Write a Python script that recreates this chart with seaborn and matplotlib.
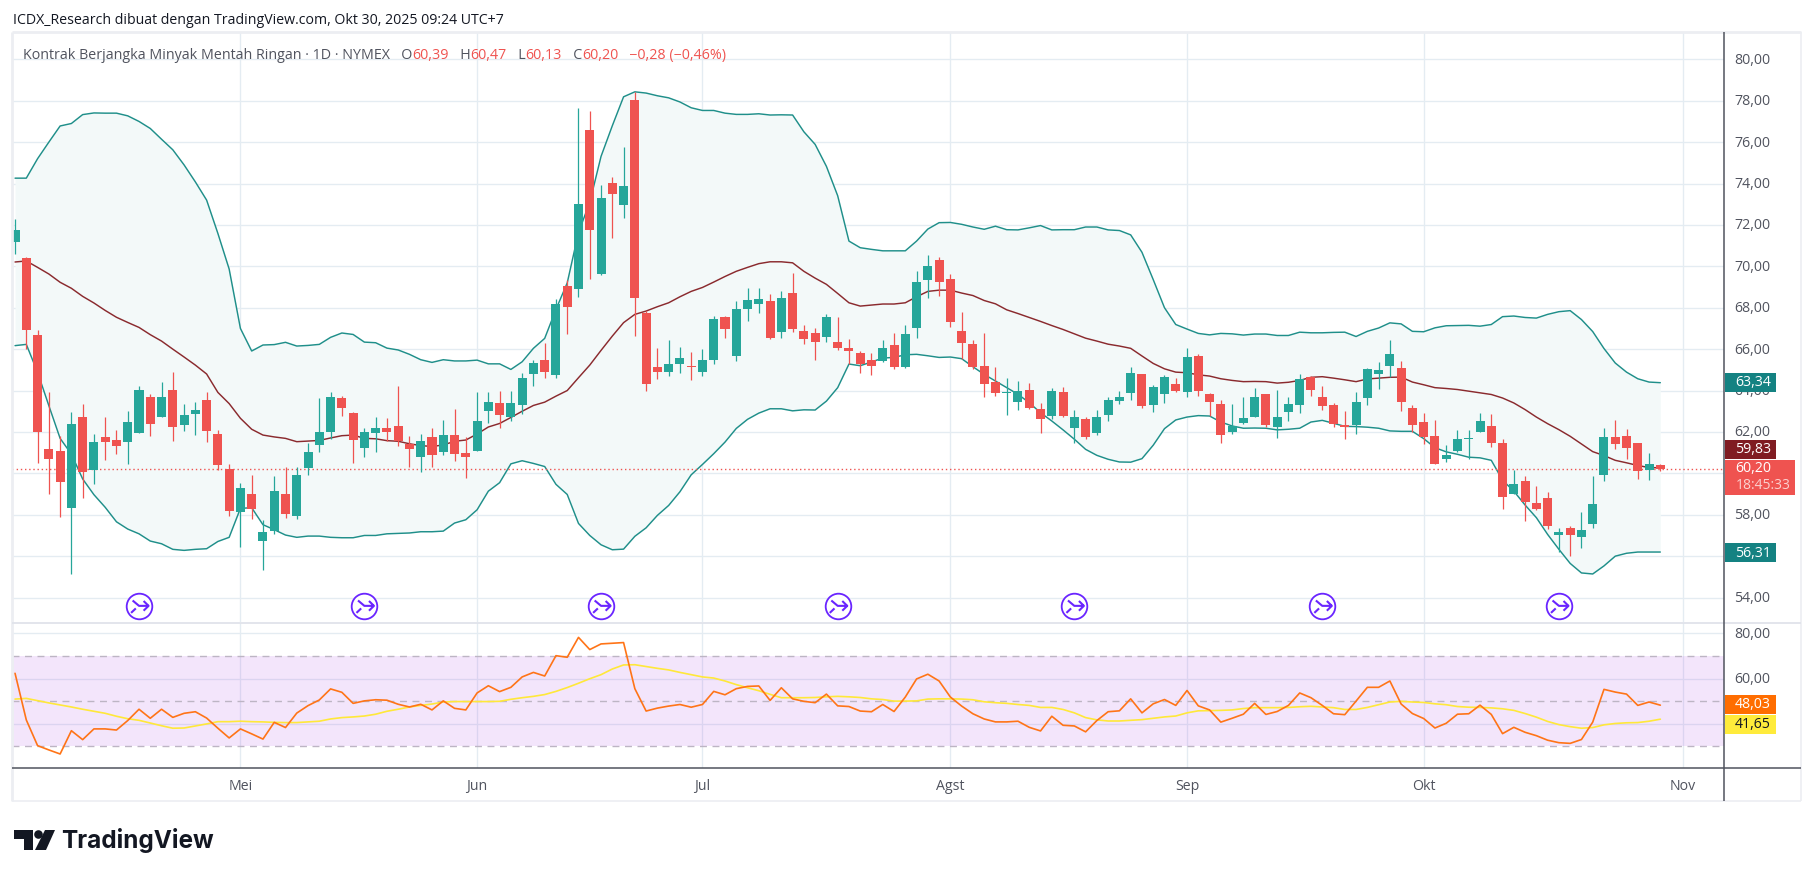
"""Crude oil daily candles with Bollinger bands and RSI, TradingView look."""

import matplotlib.pyplot as plt
import numpy as np
import pandas as pd
import seaborn as sns
from matplotlib.patches import Circle, Polygon, Rectangle
from matplotlib.path import Path
from matplotlib.transforms import ScaledTranslation

sns.set_theme(style="white")
plt.rcParams["font.family"] = ["Open Sans", "DejaVu Sans"]

opens = [
    71.19, 70.40, 66.68, 61.18, 61.08, 58.33, 62.72, 60.18, 61.76, 61.61,
    61.51, 61.95, 63.69, 62.72, 64.03, 62.33, 62.87, 63.54, 61.90, 60.21,
    58.13, 59.00, 56.73, 57.21, 59.00, 57.94, 60.26, 61.37, 62.00, 63.64,
    62.91, 61.22, 61.95, 62.19, 62.29, 61.42, 60.79, 61.76, 61.03, 61.85,
    60.98, 61.08, 62.99, 63.38, 62.70, 63.28, 64.78, 65.46, 64.73, 69.05,
    68.90, 76.58, 69.63, 74.02, 72.96, 78.03, 67.77, 65.12, 64.92, 65.26,
    65.18, 64.92, 65.50, 67.53, 65.65, 67.94, 68.18, 68.32, 66.82, 68.71,
    66.87, 66.78, 66.58, 66.34, 66.04, 65.79, 65.50, 65.41, 66.18, 65.12,
    67.02, 69.34, 70.30, 69.38, 66.87, 66.23, 65.17, 64.40, 63.88, 63.43,
    64.01, 63.09, 62.76, 63.91, 62.18, 62.61, 61.94, 62.80, 63.48, 63.87,
    64.78, 63.29, 63.82, 64.30, 63.91, 65.65, 63.82, 63.33, 61.98, 62.42,
    62.71, 63.82, 62.22, 62.95, 63.29, 64.64, 63.67, 63.29, 62.32, 62.32,
    63.62, 64.78, 65.17, 65.07, 63.14, 62.47, 61.79, 60.67, 61.10, 61.68,
    62.02, 62.31, 61.49, 58.98, 59.61, 58.59, 58.79, 57.00, 57.34, 56.91,
    57.53, 59.90, 61.78, 61.82, 61.49, 60.14, 60.39,
]
highs = [
    72.28, 70.45, 66.92, 63.91, 61.79, 62.96, 63.35, 61.90, 62.72, 62.09,
    63.01, 64.22, 63.83, 64.41, 64.90, 63.35, 63.45, 63.93, 62.09, 60.45,
    59.53, 59.92, 57.73, 59.87, 60.31, 60.31, 61.47, 63.64, 63.93, 63.74,
    62.96, 62.18, 62.72, 62.67, 64.22, 61.80, 61.90, 62.18, 62.58, 63.11,
    61.76, 63.93, 63.91, 63.96, 64.00, 64.83, 65.46, 66.28, 68.40, 69.35,
    77.65, 77.50, 73.93, 74.31, 75.76, 78.42, 67.85, 66.04, 66.42, 66.08,
    65.84, 65.99, 67.58, 67.58, 68.35, 68.95, 68.95, 68.66, 68.81, 69.67,
    67.16, 67.02, 67.69, 67.55, 66.47, 65.89, 65.79, 66.42, 66.76, 67.15,
    69.77, 70.54, 70.45, 69.63, 67.79, 66.42, 66.76, 65.12, 64.59, 64.44,
    64.35, 63.38, 64.10, 64.15, 63.05, 62.71, 63.05, 63.67, 63.96, 65.12,
    64.78, 64.25, 64.73, 64.59, 66.04, 65.75, 63.86, 63.53, 63.33, 63.67,
    64.10, 63.82, 64.01, 63.67, 64.78, 64.68, 64.20, 63.38, 63.00, 63.91,
    65.07, 65.36, 66.42, 65.41, 63.29, 62.90, 62.56, 61.39, 62.11, 62.11,
    62.93, 62.88, 61.68, 60.18, 59.85, 59.41, 59.12, 57.34, 57.44, 58.11,
    59.85, 62.21, 62.59, 62.16, 61.49, 61.00, 60.47,
]
lows = [
    70.60, 66.00, 60.50, 59.00, 57.91, 55.15, 58.81, 59.48, 60.64, 60.93,
    60.45, 61.95, 61.80, 62.72, 61.56, 62.05, 61.85, 61.51, 60.16, 57.94,
    56.45, 57.79, 55.34, 57.07, 57.84, 57.79, 59.92, 61.03, 61.66, 62.77,
    60.50, 60.79, 61.03, 61.56, 61.32, 60.31, 60.06, 60.31, 60.89, 60.60,
    59.77, 61.08, 62.41, 62.17, 62.51, 62.85, 64.20, 64.59, 64.63, 66.71,
    68.52, 69.38, 69.58, 71.37, 72.33, 66.63, 64.00, 64.54, 64.68, 64.83,
    64.49, 64.68, 65.26, 66.52, 65.41, 67.36, 67.74, 66.49, 66.53, 66.82,
    66.24, 65.47, 66.34, 65.95, 65.26, 64.83, 64.73, 65.36, 65.02, 65.07,
    66.53, 68.47, 68.56, 67.07, 65.52, 65.02, 63.67, 63.72, 62.80, 63.05,
    63.09, 61.94, 62.61, 62.71, 61.45, 61.65, 61.84, 62.51, 63.33, 63.53,
    63.14, 62.95, 63.38, 63.91, 63.67, 63.72, 62.76, 61.45, 61.89, 62.37,
    62.71, 62.22, 61.69, 62.51, 62.90, 63.72, 63.05, 62.22, 61.65, 61.89,
    63.29, 64.06, 64.65, 63.00, 61.98, 61.40, 60.44, 60.57, 61.05, 60.71,
    62.02, 61.25, 58.26, 58.98, 57.68, 58.21, 57.29, 56.18, 55.99, 56.38,
    57.34, 59.65, 61.20, 60.67, 59.75, 59.70, 60.13,
]
closes = [
    71.75, 66.94, 62.00, 60.69, 59.58, 62.38, 60.06, 61.51, 61.51, 61.32,
    62.48, 64.03, 62.38, 63.69, 62.24, 62.82, 63.06, 62.05, 60.40, 58.18,
    59.29, 58.28, 57.18, 59.15, 58.04, 59.92, 61.03, 62.00, 63.69, 63.16,
    61.61, 61.98, 62.19, 62.00, 61.56, 61.18, 61.56, 60.89, 61.85, 60.93,
    60.79, 62.53, 63.43, 62.80, 63.38, 64.59, 65.31, 64.92, 68.16, 68.03,
    73.00, 71.75, 73.30, 73.49, 73.88, 68.47, 64.34, 64.88, 65.26, 65.55,
    65.14, 65.46, 67.48, 66.95, 67.92, 68.37, 68.42, 66.53, 68.47, 66.97,
    66.49, 66.34, 67.55, 66.05, 65.89, 65.26, 65.21, 66.04, 65.12, 66.71,
    69.24, 70.01, 69.24, 67.31, 66.29, 65.12, 64.30, 63.87, 63.91, 63.96,
    63.14, 62.61, 63.96, 62.76, 62.71, 61.74, 62.71, 63.53, 63.67, 64.83,
    63.24, 64.15, 64.64, 63.96, 65.60, 63.96, 63.43, 61.84, 62.27, 62.66,
    63.67, 62.32, 62.71, 63.33, 64.54, 64.01, 63.24, 62.37, 62.25, 63.43,
    65.02, 64.97, 65.75, 63.43, 62.32, 61.74, 60.44, 60.91, 61.68, 61.73,
    62.55, 61.49, 58.88, 59.51, 58.64, 58.26, 57.44, 57.15, 57.00, 57.24,
    58.50, 61.78, 61.44, 61.24, 60.09, 60.47, 60.20,
]
bb_upper = [
    74.26, 74.26, 75.20, 76.00, 76.78, 76.90, 77.33, 77.41, 77.40, 77.40,
    77.27, 77.00, 76.66, 76.14, 75.63, 74.90, 74.08, 73.20, 71.59, 69.87,
    67.00, 65.91, 66.20, 66.22, 66.33, 66.15, 66.18, 66.23, 66.57, 66.78,
    66.71, 66.34, 66.31, 66.05, 65.96, 65.75, 65.49, 65.36, 65.49, 65.43,
    65.43, 65.47, 65.29, 65.29, 65.02, 65.39, 66.04, 66.52, 67.92, 69.20,
    71.64, 73.09, 75.31, 76.79, 78.19, 78.43, 78.37, 78.24, 78.14, 77.94,
    77.66, 77.53, 77.53, 77.40, 77.34, 77.34, 77.37, 77.31, 77.32, 77.31,
    76.50, 75.89, 74.83, 73.41, 71.22, 70.90, 70.82, 70.75, 70.75, 70.75,
    71.22, 71.80, 72.11, 72.12, 72.03, 71.90, 71.79, 71.94, 71.77, 71.76,
    71.86, 71.97, 71.76, 71.77, 71.77, 71.90, 71.90, 71.76, 71.73, 71.52,
    70.68, 69.36, 68.00, 67.19, 66.97, 66.76, 66.69, 66.76, 66.74, 66.68,
    66.73, 66.73, 66.66, 66.66, 66.82, 66.79, 66.79, 66.81, 66.82, 66.61,
    66.86, 67.02, 67.27, 67.22, 66.86, 66.84, 67.03, 67.13, 67.14, 67.15,
    67.11, 67.19, 67.57, 67.60, 67.53, 67.50, 67.68, 67.81, 67.86, 67.43,
    66.85, 66.03, 65.33, 64.89, 64.57, 64.41, 64.38,
]
bb_mid = [
    70.21, 70.26, 69.95, 69.63, 69.23, 68.94, 68.55, 68.23, 67.87, 67.54,
    67.29, 67.05, 66.70, 66.39, 66.00, 65.62, 65.23, 64.80, 63.91, 63.37,
    62.66, 62.13, 61.85, 61.76, 61.69, 61.53, 61.56, 61.59, 61.71, 61.82,
    61.85, 61.69, 61.67, 61.58, 61.55, 61.43, 61.34, 61.30, 61.37, 61.55,
    61.61, 61.90, 62.24, 62.41, 62.70, 63.00, 63.28, 63.44, 63.73, 64.00,
    64.62, 65.23, 65.94, 66.63, 67.28, 67.68, 67.84, 68.05, 68.24, 68.53,
    68.79, 68.98, 69.24, 69.51, 69.76, 69.95, 70.13, 70.22, 70.22, 70.17,
    69.76, 69.43, 69.13, 68.69, 68.24, 68.08, 68.13, 68.18, 68.18, 68.24,
    68.53, 68.79, 68.85, 68.85, 68.71, 68.59, 68.35, 68.19, 67.90, 67.72,
    67.53, 67.34, 67.14, 66.95, 66.74, 66.53, 66.39, 66.24, 66.15, 66.04,
    65.67, 65.31, 65.05, 64.89, 64.86, 64.76, 64.70, 64.57, 64.49, 64.43,
    64.44, 64.43, 64.36, 64.40, 64.49, 64.64, 64.67, 64.60, 64.52, 64.43,
    64.56, 64.60, 64.64, 64.65, 64.41, 64.28, 64.14, 64.10, 64.05, 63.97,
    63.89, 63.81, 63.64, 63.40, 63.08, 62.72, 62.40, 62.11, 61.79, 61.42,
    61.05, 60.86, 60.63, 60.51, 60.38, 60.28, 60.27,
]
bb_lower = [
    66.17, 66.23, 64.88, 63.27, 61.69, 60.93, 59.73, 58.97, 58.36, 57.66,
    57.31, 57.08, 56.73, 56.60, 56.33, 56.28, 56.33, 56.36, 56.71, 56.91,
    58.31, 58.34, 57.52, 57.28, 57.02, 56.91, 56.97, 56.97, 56.91, 56.89,
    56.89, 57.00, 57.00, 57.08, 57.10, 57.12, 57.18, 57.18, 57.21, 57.60,
    57.76, 58.24, 59.14, 59.55, 60.46, 60.61, 60.48, 60.33, 59.47, 58.98,
    57.58, 57.00, 56.55, 56.31, 56.34, 56.96, 57.37, 57.97, 58.45, 59.11,
    59.93, 60.43, 60.95, 61.51, 62.17, 62.61, 62.91, 63.12, 63.12, 63.02,
    63.07, 63.06, 63.49, 64.14, 65.28, 65.20, 65.38, 65.57, 65.60, 65.73,
    65.75, 65.68, 65.60, 65.62, 65.54, 65.15, 64.78, 64.46, 64.14, 63.82,
    63.41, 62.93, 62.53, 62.10, 61.65, 61.16, 60.87, 60.68, 60.55, 60.54,
    60.71, 61.36, 62.16, 62.58, 62.72, 62.79, 62.77, 62.48, 62.29, 62.18,
    62.19, 62.18, 62.10, 62.13, 62.18, 62.48, 62.56, 62.42, 62.27, 62.26,
    62.23, 62.18, 62.05, 62.03, 62.03, 61.68, 61.24, 61.04, 60.92, 60.78,
    60.75, 60.63, 59.67, 59.14, 58.47, 57.86, 57.05, 56.33, 55.65, 55.19,
    55.14, 55.53, 56.00, 56.14, 56.20, 56.20, 56.20,
]
rsi = [
    62.3, 41.65, 30.3, 28.4, 26.6, 36.9, 32.95, 37.7, 37.7, 37.2,
    41.4, 46.4, 42.4, 46.4, 42.8, 44.6, 45.3, 42.5, 38.0, 33.7,
    37.7, 35.5, 33.2, 40.6, 38.3, 44.7, 48.0, 50.5, 55.4, 53.9,
    49.0, 50.1, 50.6, 50.4, 48.6, 47.4, 48.6, 46.1, 50.1, 46.8,
    46.1, 53.6, 56.8, 54.2, 56.1, 60.7, 62.7, 61.1, 70.1, 69.4,
    78.2, 72.8, 75.3, 75.6, 75.9, 55.5, 45.6, 46.9, 47.8, 48.5,
    47.3, 48.5, 54.3, 52.8, 55.5, 56.5, 56.7, 50.3, 55.9, 51.0,
    49.9, 49.3, 53.1, 47.9, 47.6, 45.6, 45.3, 48.5, 45.4, 51.8,
    59.8, 61.9, 58.9, 51.8, 47.8, 44.4, 42.1, 40.8, 40.8, 41.1,
    38.4, 36.8, 43.3, 39.3, 39.0, 36.4, 41.4, 45.3, 45.7, 51.0,
    44.8, 48.8, 50.7, 48.1, 54.7, 47.9, 46.1, 40.7, 42.4, 44.2,
    49.0, 44.1, 45.4, 48.1, 53.6, 51.5, 48.1, 44.4, 44.0, 50.0,
    56.1, 56.1, 58.9, 48.7, 44.5, 42.3, 38.1, 40.2, 44.2, 44.4,
    48.2, 44.1, 35.6, 38.4, 36.2, 34.7, 32.7, 31.6, 31.3, 33.0,
    40.7, 55.2, 54.0, 53.1, 48.1, 49.6, 48.2,
]
rsi_ma = [
    50.9, 51.2, 50.2, 49.2, 48.3, 47.4, 46.4, 45.5, 44.6, 43.3,
    42.2, 41.5, 40.3, 39.1, 38.0, 38.1, 39.0, 39.9, 40.9, 40.9,
    41.1, 40.9, 40.8, 40.6, 40.5, 40.5, 40.8, 41.1, 42.1, 42.7,
    43.0, 43.4, 44.2, 45.5, 46.4, 47.4, 48.1, 48.7, 49.6, 49.8,
    49.8, 49.8, 49.8, 49.9, 50.8, 51.5, 52.1, 52.9, 54.3, 56.0,
    57.9, 59.9, 61.7, 64.2, 66.0, 66.1, 65.3, 64.5, 63.8, 62.7,
    61.7, 60.7, 60.2, 58.9, 57.3, 55.9, 54.6, 53.0, 51.5, 51.5,
    51.5, 51.6, 51.9, 52.1, 51.9, 51.6, 51.0, 50.7, 50.0, 50.0,
    50.1, 50.9, 51.0, 51.0, 50.9, 50.6, 49.7, 49.3, 49.0, 48.5,
    48.1, 47.2, 47.2, 46.3, 44.8, 42.7, 41.7, 41.2, 41.2, 41.5,
    41.8, 42.4, 43.0, 43.4, 44.8, 45.7, 45.8, 45.9, 46.1, 46.7,
    47.1, 47.1, 47.1, 47.2, 47.5, 47.7, 47.4, 47.1, 46.3, 46.3,
    47.2, 48.4, 49.6, 49.9, 49.6, 49.4, 48.8, 48.4, 47.6, 47.3,
    47.2, 47.0, 46.6, 45.9, 44.5, 42.9, 41.0, 39.6, 38.7, 38.0,
    38.3, 39.5, 40.1, 40.4, 40.5, 41.1, 42.0,
]

month_days = [20, 41, 61, 83, 104, 125, 148]
month_labels = ["Mei", "Jun", "Jul", "Agst", "Sep", "Okt", "Nov"]
price_ticks = [54, 56, 58, 60, 62, 64, 66, 68, 70, 72, 74, 76, 78, 80]
rsi_ticks = [40, 60, 80]
rsi_levels = [30, 50, 70]
# these tick labels sit fully behind a value tag
covered_price = [56, 60]
covered_rsi = [40]
event_days = [11, 31, 52, 73, 94, 116, 137]
event_level = 53.6
last_price = 60.20

UP = "#26a69a"
DOWN = "#ef5350"
GRID = "#e4ecf2"
TEAL = "#1f8f8a"
TEXT = "#50535e"

W, H = 1814, 878
df = pd.DataFrame({"day": np.arange(len(opens)), "open": opens, "high": highs, "low": lows,
                   "close": closes, "upper": bb_upper, "mid": bb_mid, "lower": bb_lower,
                   "rsi": rsi, "rsi_ma": rsi_ma})


def pane(fig, left, top, right, bottom):
    return fig.add_axes([left / W, 1 - bottom / H, (right - left) / W, (bottom - top) / H])


fig = plt.figure(figsize=(W / 100, H / 100), dpi=100, facecolor="white")
ax = pane(fig, 12, 33, 1724, 623)
ax2 = pane(fig, 12, 624, 1724, 769)
xlim = (-0.27, 151.65)

# price pane
ax.fill_between(df["day"], df["upper"], df["lower"], color="#f3f9f9", lw=0, zorder=1)
sns.lineplot(data=df, x="day", y="upper", ax=ax, color=TEAL, lw=1.05, errorbar=None, zorder=2)
sns.lineplot(data=df, x="day", y="lower", ax=ax, color=TEAL, lw=1.05, errorbar=None, zorder=2)
sns.lineplot(data=df, x="day", y="mid", ax=ax, color="#8a2a2e", lw=1.05, errorbar=None, zorder=2)
ax.axhline(last_price, color=DOWN, lw=1.0, ls=(0, (1, 2)), zorder=2.5)

colors = np.where(df["close"] >= df["open"], UP, DOWN)
ax.vlines(df["day"], df["low"], df["high"], colors=colors, lw=0.9, zorder=3)
ax.bar(df["day"], (df["close"] - df["open"]).abs().clip(lower=0.04),
       bottom=df[["open", "close"]].min(axis=1), width=0.8, color=colors, lw=0, zorder=4)

# event markers under the candles
arrow = Path([(-0.5, 0.42), (0.0, 0.0), (0.75, 0.0), (0.36, 0.38), (0.75, 0.0), (0.36, -0.38),
              (-0.62, -0.55), (-0.25, -0.2)],
             [Path.MOVETO, Path.LINETO, Path.LINETO, Path.MOVETO, Path.LINETO, Path.LINETO,
              Path.MOVETO, Path.LINETO])
event_y = [event_level] * len(event_days)
ax.scatter(event_days, event_y, s=340, facecolors="white", edgecolors="#6a25ff", linewidths=1.3, zorder=5)
ax.scatter(event_days, event_y, s=190, marker=arrow, facecolors="none", edgecolors="#6a25ff",
           linewidths=1.5, zorder=6)

ax.set_ylim(52.82, 81.32)
ax.set_yticks(price_ticks)
ax.set_yticklabels(["" if v in covered_price else f"{v},00" for v in price_ticks])

# RSI pane
for lvl in rsi_levels:
    ax2.axhline(lvl, color="#bdb5c4", lw=1.0, ls=(0, (5, 4)), zorder=2)
ax2.axhspan(min(rsi_levels), max(rsi_levels), color=(145 / 255, 5 / 255, 225 / 255, 0.1), lw=0, zorder=1)
sns.lineplot(data=df, x="day", y="rsi_ma", ax=ax2, color="#ffe83a", lw=1.2, errorbar=None, zorder=3)
sns.lineplot(data=df, x="day", y="rsi", ax=ax2, color="#ff7417", lw=1.2, errorbar=None, zorder=4)
ax2.set_ylim(20.4, 84.56)
ax2.set_yticks(rsi_ticks)
ax2.set_yticklabels(["" if v in covered_rsi else f"{v},00" for v in rsi_ticks])

lift = ScaledTranslation(0, 2 / 100, fig.dpi_scale_trans)
for a in (ax, ax2):
    a.set_xlim(*xlim)
    a.set_xticks(month_days)
    a.set_xlabel("")
    a.set_ylabel("")
    a.grid(True, color=GRID, lw=0.95, zorder=0)
    a.set_axisbelow(True)
    a.yaxis.tick_right()
    a.tick_params(axis="y", length=0, pad=7.5, labelsize=10.2, labelcolor=TEXT)
    a.tick_params(axis="x", length=0, pad=7, labelsize=10.2, labelcolor=TEXT)
    sns.despine(ax=a, left=True, bottom=True, right=True, top=True)
    for lab in a.get_yticklabels():
        lab.set_transform(lab.get_transform() + lift)
ax.set_xticklabels([])
ax2.set_xticklabels(month_labels)

# everything outside the panes lives on a pixel overlay
ov = fig.add_axes([0, 0, 1, 1], zorder=10)
ov.set_xlim(0, W)
ov.set_ylim(H, 0)
ov.axis("off")

for x0, y0, x1, y1, col, lw in [
    (12, 33, 1801, 33, "#eceef2", 2.0), (12, 33, 12, 802, "#eceef2", 2.0),
    (1801, 33, 1801, 802, "#eceef2", 1.2), (12, 802, 1801, 802, "#eceef2", 1.2),
    (12, 623.5, 1801, 623.5, "#e0e3eb", 1.3),
    (1724, 33, 1724, 802, "#50535e", 1.1), (12, 769, 1801, 769, "#50535e", 1.1),
]:
    ov.plot([x0, x1], [y0, y1], color=col, lw=lw, solid_capstyle="butt")

ov.text(13, 20, "ICDX_Research dibuat dengan TradingView.com, Okt 30, 2025 09:24 UTC+7",
        fontsize=10.2, color="#131722", va="center", ha="left")

# legend line, one piece after the other
pieces = [
    ("Kontrak Berjangka Minyak Mentah Ringan · 1D · NYMEX   O", TEXT), ("60,39", DOWN), ("   H", TEXT),
    ("60,47", DOWN), ("   L", TEXT), ("60,13", DOWN), ("   C", TEXT), ("60,20", DOWN),
    ("   −0,28 (−0,46%)", DOWN),
]
prev = ov.text(23, 59, pieces[0][0], fontsize=10.3, color=pieces[0][1], va="baseline", ha="left")
for label, col in pieces[1:]:
    prev = ov.annotate(label, xy=(1, 0), xycoords=prev, fontsize=10.3, color=col, va="bottom", ha="left")

# value tags on the right axis
for y, label, bg, fg in [
    (383, "63,34", "#148282", "white"), (450, "59,83", "#801c22", "white"),
    (553.5, "56,31", "#148282", "white"), (705, "48,03", "#ff6d00", "white"),
    (725, "41,65", "#ffeb3b", "#131722"),
]:
    ov.add_patch(Rectangle((1724.5, y - 9.5), 51, 19, color=bg, lw=0))
    ov.text(1753, y, label, fontsize=10.2, color=fg, va="center", ha="center")
ov.add_patch(Rectangle((1724.5, 461), 70, 35, color=DOWN, lw=0))
ov.text(1753, 469, "60,20", fontsize=10.2, color="white", va="center", ha="center")
ov.text(1763, 486, "18:45:33", fontsize=10, color="#fbd0cf", va="center", ha="center")

# logo
ov.add_patch(Polygon([(14, 831), (33, 831), (33, 851), (24, 851), (24, 840), (14, 840)], color="#131722", lw=0))
ov.add_patch(Circle((38.5, 835.5), 4.3, color="#131722", lw=0))
ov.add_patch(Polygon([(45, 831), (55, 831), (46, 851), (35, 851)], color="#131722", lw=0))
ov.text(61, 841, "TradingView", fontsize=17.5, fontweight="bold", color="#131722", va="center", ha="left",
        family=["Inter", "DejaVu Sans"])

fig.savefig("out.png", dpi=100)
